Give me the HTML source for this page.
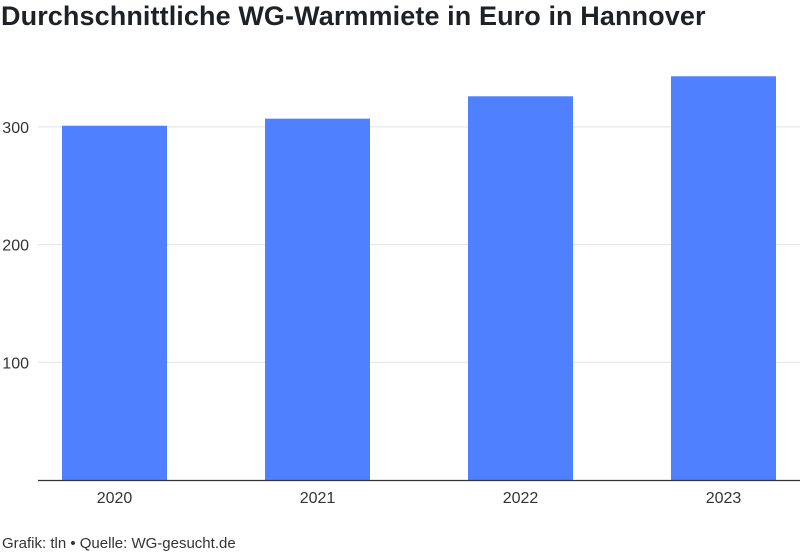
<!DOCTYPE html>
<html><head><meta charset="utf-8"><style>
body{margin:0;background:#fff;width:800px;height:554px;overflow:hidden;font-family:"Liberation Sans",sans-serif}
#title{position:absolute;left:1px;top:1px;font-size:27px;font-weight:bold;color:#1e2227;letter-spacing:0.1px;margin:0;white-space:nowrap}
#footer{position:absolute;left:2px;top:535px;font-size:15px;color:#333}
svg{position:absolute;left:0;top:0}
</style></head><body>
<h1 id="title">Durchschnittliche WG-Warmmiete in Euro in Hannover</h1>
<svg id="chart" width="800" height="554"></svg>
<div id="footer">Grafik: tln • Quelle: WG-gesucht.de</div>
<script>
const categories=["2020","2021","2022","2023"];
const values=[301,307,326,343];
const yTicks=[100,200,300];
const NS="http://www.w3.org/2000/svg";
const svg=document.getElementById('chart');
const y0=480,pxPer=1.177;
function y(v){return y0-v*pxPer;}
function xc(i){return 114.5+203*i;}
function mk(t,a){const e=document.createElementNS(NS,t);for(const k in a)e.setAttribute(k,a[k]);svg.appendChild(e);return e;}
yTicks.forEach(t=>{
 const l=mk('line',{x1:38,x2:800,y1:y(t),y2:y(t),stroke:'#e3e3e3','stroke-width':1});
 
 
 const tx=mk('text',{x:29,y:y(t)+6,'text-anchor':'end','font-size':16,fill:'#333','font-family':'Liberation Sans, sans-serif'});
 tx.textContent=t;
 
 
});
values.forEach((v,i)=>{
 const r=mk('rect',{x:xc(i)-52.5,y:y(v),width:105,height:y0-y(v),fill:'#4f80ff'});
 
 
 const tx=mk('text',{x:xc(i),y:503,'text-anchor':'middle','font-size':16,fill:'#333','font-family':'Liberation Sans, sans-serif'});
 tx.textContent=categories[i];
 
 
});
const ax=mk('line',{x1:38,x2:800,y1:480.5,y2:480.5,stroke:'#333','stroke-width':1.2});


</script>
</body></html>
